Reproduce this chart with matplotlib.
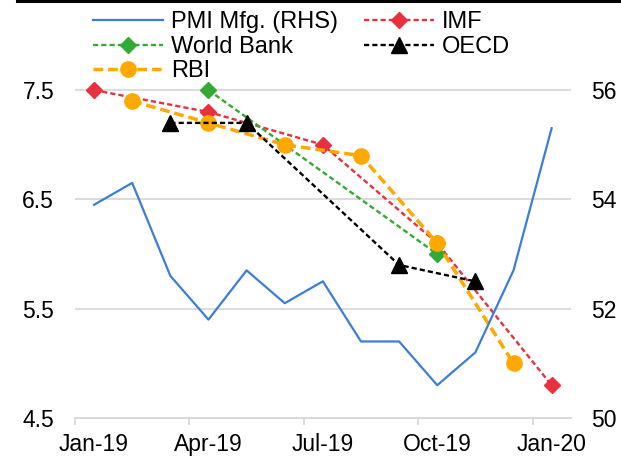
import numpy as np
import matplotlib.pyplot as plt
from matplotlib.lines import Line2D

plt.rcParams['font.family'] = ['Liberation Sans', 'DejaVu Sans']

# month index: 0 = Jan-19 ... 12 = Jan-20 (points sit mid-month)
pmi_months = np.arange(13)
pmi = [53.9, 54.3, 52.6, 51.8, 52.7, 52.1, 52.5, 51.4, 51.4, 50.6, 51.2, 52.7, 55.3]

imf_months = [0, 3, 6, 9, 12]
imf = [7.5, 7.3, 7.0, 6.1, 4.8]

wb_months = [3, 9]
wb = [7.5, 6.0]

oecd_months = [2, 4, 8, 10]
oecd = [7.2, 7.2, 5.9, 5.75]

rbi_months = [1, 3, 5, 7, 9, 11]
rbi = [7.4, 7.2, 7.0, 6.9, 6.1, 5.0]

tick_months = [0, 3, 6, 9, 12]
tick_labels = ['Jan-19', 'Apr-19', 'Jul-19', 'Oct-19', 'Jan-20']

fig = plt.figure(figsize=(6.21, 4.62), dpi=100)
ax = fig.add_axes([0.1208, 0.0952, 0.7982, 0.8983])
ax2 = ax.twinx()

off = 0.5
ln_imf, = ax.plot(np.array(imf_months) + off, imf, color='#E8303E', lw=1.7,
                  dashes=(2.2, 1.3), marker='D', ms=8.5, label='IMF', zorder=3)
ln_wb, = ax.plot(np.array(wb_months) + off, wb, color='#33AA33', lw=1.7,
                 dashes=(2.2, 1.3), marker='D', ms=8.5, label='World Bank', zorder=3)
ln_oecd, = ax.plot(np.array(oecd_months) + off, oecd, color='black', lw=1.7,
                   dashes=(2.2, 1.3), marker='^', ms=11, label='OECD', zorder=5)
ln_rbi, = ax.plot(np.array(rbi_months) + off, rbi, color='#FFA800', lw=2.5,
                  dashes=(2.8, 1.4), marker='o', ms=11, label='RBI', zorder=4)

ln_pmi, = ax2.plot(pmi_months + off, pmi, color='#3C7DD9', lw=1.6,
                   label='PMI Mfg. (RHS)')

ax.set_xlim(0, 13)
ax.set_ylim(4.5, 8.297)
ax2.set_ylim(50, 57.59)
ax.set_yticks([4.5, 5.5, 6.5, 7.5])
ax.set_yticklabels(['4.5', '5.5', '6.5', '7.5'])
ax2.set_yticks([50, 52, 54, 56])
# labels centred on the month, tick marks on the month boundary
ax.set_xticks(np.array(tick_months) + 0.5)
ax.set_xticklabels(tick_labels)
ax.set_xticks(tick_months, minor=True)

ax.grid(axis='y', color='#D9D9D9', lw=1.3)
ax.set_axisbelow(True)
for a in (ax, ax2):
    for s in ('top', 'left', 'right'):
        a.spines[s].set_visible(False)
    a.spines['bottom'].set_color('#D9D9D9')
    a.spines['bottom'].set_linewidth(1.3)
ax.tick_params(axis='y', length=0, labelsize=16.5, pad=15)
ax2.tick_params(axis='y', length=0, labelsize=16.5, pad=15)
ax.tick_params(axis='x', which='major', length=0, labelsize=16.5, pad=11)
ax.tick_params(axis='x', which='minor', length=5, color='#D9D9D9', width=1.3)

handles = [ln_pmi, ln_wb, ln_rbi, ln_imf, ln_oecd]
ax2.legend(handles=handles, ncol=2, frameon=False, fontsize=17,
           loc='upper left', bbox_to_anchor=(0.1346, 0.996), bbox_transform=fig.transFigure,
           handlelength=2.95, handletextpad=0.36, columnspacing=1.1,
           labelspacing=0.11, borderaxespad=0)

fig.add_artist(Line2D([0.028, 1.0], [0.998, 0.998], color='black', lw=2.2,
                      transform=fig.transFigure))

fig.savefig('out.png', dpi=100)
